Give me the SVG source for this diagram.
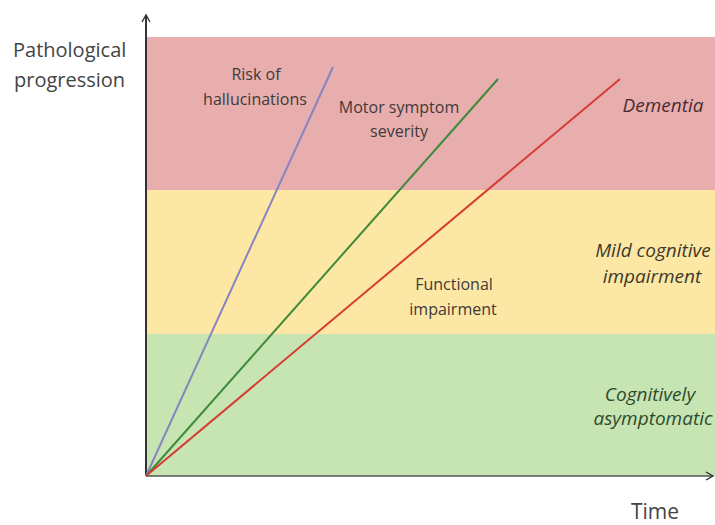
<svg xmlns="http://www.w3.org/2000/svg" width="715" height="525" viewBox="0 0 715 525">
<style>
text{font-family:"Open Sans","Liberation Sans",sans-serif;fill:#3f3a3a}
.ax{font-size:20px;fill:#444}
.lb{font-size:16px;text-anchor:middle}
.st{font-size:19px;font-style:italic;text-anchor:middle}
.r{fill:#4a2c33}.y{fill:#3d392a}.g{fill:#2f4a2f}
.ln{fill:none;stroke-width:2}
</style>
<defs>
<marker id="ah" markerWidth="10" markerHeight="10" refX="8" refY="5" orient="auto" markerUnits="userSpaceOnUse">
<path d="M1,1 L8,5 L1,9" fill="none" stroke="#333" stroke-width="1.4"/>
</marker>
</defs>
<rect width="715" height="525" fill="#fff"/>
<g id="bands">
<rect x="146" y="37" width="569" height="153" fill="#e8aeae"/>
<rect x="146" y="190" width="569" height="144" fill="#fde7a4"/>
<rect x="146" y="334" width="569" height="142" fill="#c7e5b3"/>
</g>
<g id="axes">
<line x1="146" y1="476" x2="146" y2="15" stroke="#333" stroke-width="2" marker-end="url(#ah)"/>
<line x1="146" y1="476" x2="713" y2="476" stroke="#555" stroke-width="1.5" marker-end="url(#ah)"/>
</g>
<g id="connectors">
<line class="ln" x1="146" y1="476" x2="333" y2="67" stroke="#8585c0"/>
<line class="ln" x1="146" y1="476" x2="498" y2="79" stroke="#3d8a3a"/>
<line class="ln" x1="146" y1="476" x2="620" y2="79" stroke="#d63b34"/>
</g>
<g id="labels">
<text class="ax" x="13" y="57">Pathological</text>
<text class="ax" x="14" y="87">progression</text>
<text class="ax" x="655" y="519" text-anchor="middle" style="font-size:21px">Time</text>
<text class="lb" x="256" y="80">Risk of</text>
<text class="lb" x="255" y="105">hallucinations</text>
<text class="lb" x="399" y="113">Motor symptom</text>
<text class="lb" x="399" y="137">severity</text>
<text class="lb" x="454" y="290">Functional</text>
<text class="lb" x="453" y="315">impairment</text>
<text class="st r" x="663" y="112">Dementia</text>
<text class="st y" x="653" y="257">Mild cognitive</text>
<text class="st y" x="652" y="283">impairment</text>
<text class="st g" x="650" y="401">Cognitively</text>
<text class="st g" x="653" y="425">asymptomatic</text>
</g>
</svg>
